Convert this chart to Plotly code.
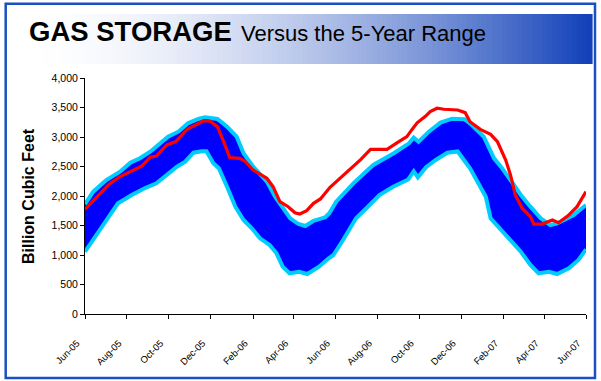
import plotly.graph_objects as go

# ---------------- data ----------------
actual_dates = [
    "2005-06-01", "2005-06-18", "2005-07-05", "2005-07-20", "2005-08-06", "2005-08-23",
    "2005-09-04", "2005-09-13", "2005-09-28", "2005-10-11", "2005-10-28", "2005-11-09",
    "2005-11-21", "2005-11-30", "2005-12-11", "2005-12-20", "2005-12-29", "2006-01-13",
    "2006-01-21", "2006-02-01", "2006-02-21", "2006-03-02", "2006-03-12", "2006-03-24",
    "2006-04-03", "2006-04-10", "2006-04-20", "2006-04-30", "2006-05-10", "2006-05-24",
    "2006-06-04", "2006-06-15", "2006-06-27", "2006-07-08", "2006-07-22", "2006-08-15",
    "2006-08-30", "2006-09-13", "2006-09-20", "2006-09-28", "2006-10-10", "2006-10-17",
    "2006-10-27", "2006-11-06", "2006-11-26", "2006-12-07", "2006-12-14", "2006-12-29",
    "2007-01-13", "2007-01-23", "2007-02-04", "2007-02-11", "2007-02-18", "2007-02-28",
    "2007-03-12", "2007-03-17", "2007-03-29", "2007-04-13", "2007-04-22", "2007-05-07",
    "2007-05-19", "2007-06-01",
]
actual_bcf = [
    1775, 1988, 2187, 2317, 2412, 2509,
    2656, 2678, 2865, 2920, 3131, 3204,
    3276, 3270, 3175, 2920, 2650, 2639,
    2582, 2441, 2300, 2158, 1903, 1819,
    1717, 1695, 1751, 1876, 1950, 2148,
    2260, 2370, 2510, 2620, 2790, 2791,
    2904, 3006, 3120, 3240, 3350, 3429,
    3487, 3470, 3458, 3413, 3260, 3130,
    3046, 2920, 2610, 2356, 2017, 1792,
    1650, 1525, 1525, 1593, 1548, 1678,
    1819, 2073,
]

max_dates = [
    "2005-06-01", "2005-06-13", "2005-07-02", "2005-07-22", "2005-08-06", "2005-08-20",
    "2005-09-04", "2005-09-18", "2005-09-30", "2005-10-15", "2005-10-29", "2005-11-13",
    "2005-11-23", "2005-12-11", "2005-12-25", "2006-01-08", "2006-01-18", "2006-02-01",
    "2006-02-21", "2006-03-05", "2006-03-15", "2006-03-27", "2006-04-08", "2006-04-18",
    "2006-04-30", "2006-05-17", "2006-05-23", "2006-06-02", "2006-06-27", "2006-07-26",
    "2006-08-25", "2006-09-16", "2006-09-23", "2006-09-30", "2006-10-15", "2006-11-01",
    "2006-11-18", "2006-12-06", "2006-12-14", "2007-01-03", "2007-01-18", "2007-01-28",
    "2007-02-11", "2007-02-26", "2007-03-12", "2007-03-27", "2007-04-10", "2007-04-20",
    "2007-05-02", "2007-05-14", "2007-06-01",
]
max_bcf = [
    1860, 2073, 2271, 2412, 2565, 2639,
    2751, 2882, 3005, 3090, 3232, 3305,
    3334, 3305, 3175, 3005, 2724, 2497,
    2243, 1988, 1819, 1622, 1525, 1492,
    1581, 1639, 1707, 1904, 2215, 2526,
    2724, 2893, 2990, 2920, 3090, 3243,
    3310, 3300, 3232, 3005, 2639, 2497,
    2271, 2017, 1819, 1622, 1508, 1537,
    1605, 1678, 1848,
]

min_dates = [
    "2005-06-01", "2005-06-13", "2005-06-25", "2005-07-07", "2005-07-19", "2005-07-29",
    "2005-08-08", "2005-08-27", "2005-09-13", "2005-09-28", "2005-10-13", "2005-10-25",
    "2005-11-06", "2005-11-18", "2005-11-25", "2005-12-05", "2005-12-13", "2005-12-25",
    "2006-01-06", "2006-01-18", "2006-01-30", "2006-02-11", "2006-02-25", "2006-03-07",
    "2006-03-16", "2006-03-26", "2006-04-09", "2006-04-21", "2006-05-08", "2006-05-22",
    "2006-05-29", "2006-06-12", "2006-07-01", "2006-07-16", "2006-08-04", "2006-08-24",
    "2006-09-15", "2006-09-23", "2006-09-29", "2006-10-11", "2006-10-25", "2006-11-11",
    "2006-11-26", "2006-12-14", "2007-01-06", "2007-01-13", "2007-02-01", "2007-02-26",
    "2007-03-12", "2007-03-24", "2007-04-08", "2007-04-20", "2007-05-07", "2007-05-21",
    "2007-06-01",
]
min_bcf = [
    1056, 1254, 1480, 1649, 1876, 1944,
    2017, 2131, 2215, 2356, 2497, 2581,
    2734, 2760, 2760, 2554, 2470, 2158,
    1819, 1593, 1453, 1283, 1170, 1029,
    802, 690, 717, 678, 802, 944,
    1000, 1254, 1622, 1792, 2017, 2158,
    2280, 2420, 2317, 2487, 2610, 2734,
    2755, 2470, 1988, 1622, 1368, 1056,
    831, 690, 717, 678, 775, 915,
    1097,
]

y_ticks = [0, 500, 1000, 1500, 2000, 2500, 3000, 3500, 4000]
title_bold = "GAS STORAGE"
title_rest = "Versus the 5-Year Range"
y_title = "Billion Cubic Feet"

# ---------------- figure ----------------
W, H = 601, 381
ML, MR, MT, MB = 85, 15, 78, 67
PW, PH = W - ML - MR, H - MT - MB


def px(x):
    return (x - ML) / PW


def py(y):
    return (H - MB - y) / PH


fig = go.Figure()

# 5-year range band
fig.add_trace(go.Scatter(
    x=max_dates + min_dates[::-1],
    y=max_bcf + min_bcf[::-1],
    fill="toself", fillcolor="#0000FF",
    mode="lines", line=dict(width=0),
    hoverinfo="skip", showlegend=False,
))
for d, v in ((max_dates, max_bcf), (min_dates, min_bcf)):
    fig.add_trace(go.Scatter(
        x=d, y=v, mode="lines",
        line=dict(color="#00CCFF", width=4),
        showlegend=False,
    ))
fig.add_trace(go.Scatter(
    x=actual_dates, y=actual_bcf, mode="lines",
    line=dict(color="#FF0000", width=3.2),
    showlegend=False,
))

shapes = []
# gradient banner behind title
x0b, x1b, y0b, y1b = 27, 592, 14, 64
n = 113
for i in range(n):
    t = (i + 0.5) / n
    f = t ** 1.7
    r = round(255 + (16 - 255) * f)
    g = round(255 + (64 - 255) * f)
    b = round(255 + (184 - 255) * f)
    xa = x0b + (x1b - x0b) * i / n
    xb = x0b + (x1b - x0b) * (i + 1) / n + 0.6
    shapes.append(dict(
        type="rect", xref="paper", yref="paper",
        x0=px(xa), x1=px(xb), y0=py(y1b), y1=py(y0b),
        fillcolor=f"rgb({r},{g},{b})", line=dict(width=0), layer="below",
    ))
# outer blue frame
shapes.append(dict(
    type="rect", xref="paper", yref="paper",
    x0=px(5.7), x1=px(595), y0=py(378), y1=py(3.7),
    line=dict(color="#1A4FC4", width=2.5), fillcolor="rgba(0,0,0,0)", layer="above",
))

annotations = [
    dict(text=f"<b>{title_bold}</b>", xref="paper", yref="paper",
         x=px(27), y=py(31.5), xanchor="left", yanchor="middle", showarrow=False,
         font=dict(family="Liberation Sans, Arial", size=27.5, color="black")),
    dict(text=title_rest, xref="paper", yref="paper",
         x=px(239), y=py(33), xanchor="left", yanchor="middle", showarrow=False,
         font=dict(family="Liberation Sans, Arial", size=22, color="black")),
    dict(text=f"<b>{y_title}</b>", xref="paper", yref="paper",
         x=px(28), y=py(196), xanchor="center", yanchor="middle", showarrow=False,
         textangle=-90,
         font=dict(family="Liberation Sans, Arial", size=16, color="black")),
]

fig.update_layout(
    width=W, height=H,
    margin=dict(l=ML, r=MR, t=MT, b=MB),
    paper_bgcolor="white", plot_bgcolor="white",
    showlegend=False,
    shapes=shapes,
    annotations=annotations,
    font=dict(family="Liberation Sans, Arial", color="black"),
    xaxis=dict(
        type="date", range=["2005-06-01", "2007-06-01"],
        tick0="2005-06-01", dtick="M2", tickformat="%b-%y",
        tickangle=-45, tickfont=dict(size=9.5),
        showline=True, linecolor="black", linewidth=1,
        ticks="outside", ticklen=4, tickcolor="black",
        showgrid=False, zeroline=False,
        ticklabelstandoff=15, ticklabelshift=-8,
    ),
    yaxis=dict(
        range=[0, 4000], tickvals=y_ticks, tickformat=",d",
        tickfont=dict(size=10.5),
        showline=True, linecolor="black", linewidth=1,
        ticks="outside", ticklen=4, tickcolor="black",
        showgrid=False, zeroline=False,
    ),
)

fig.write_html(
    "out.html",
    config={"displayModeBar": False},
    post_script="document.body.style.margin='0';document.body.style.padding='0';",
)
